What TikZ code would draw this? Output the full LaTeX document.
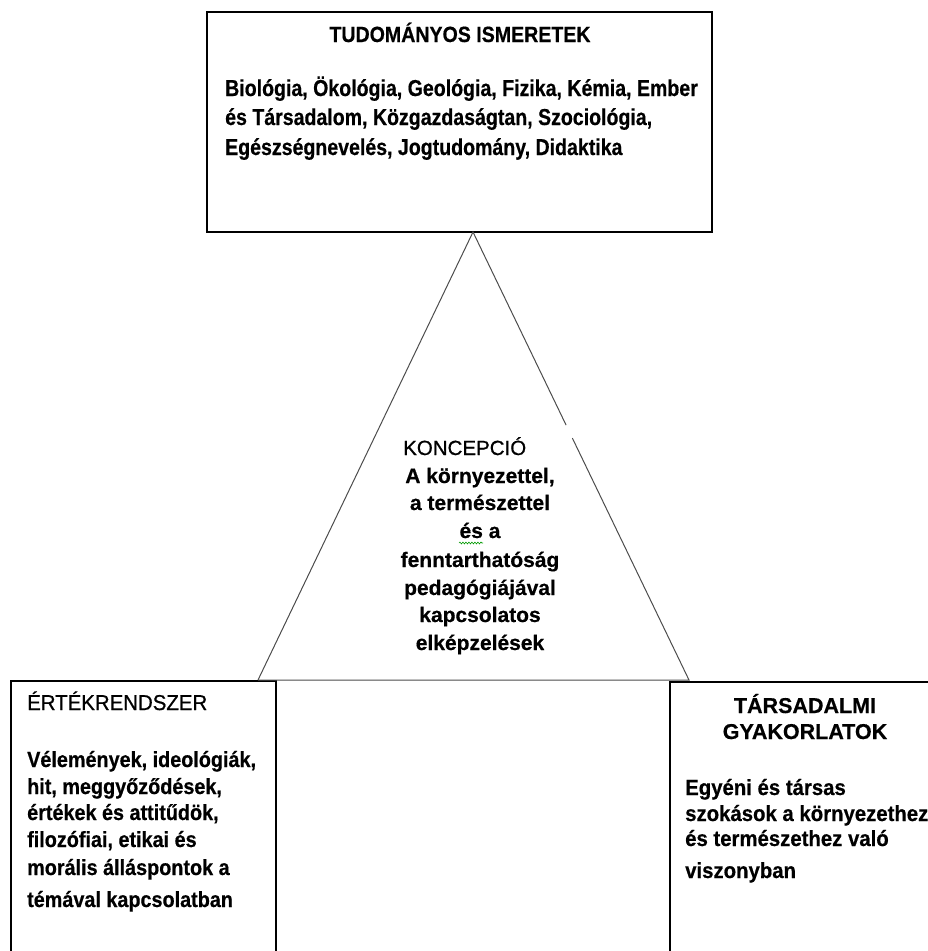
\documentclass[tikz,border=0pt]{standalone}
\usepackage{fontspec}
\setmainfont{Liberation Sans}[BoldFeatures={FakeBold=0.5}]
% condensed cuts of the same family for the denser text blocks
\newfontfamily\fsTopBody{Liberation Sans}[FakeStretch=0.85,BoldFeatures={FakeBold=0.5}]
\newfontfamily\fsTopHead{Liberation Sans}[FakeStretch=0.89,BoldFeatures={FakeBold=0.5}]
\newfontfamily\fsLeftBody{Liberation Sans}[FakeStretch=0.9,BoldFeatures={FakeBold=0.5}]
\newfontfamily\fsRightBody{Liberation Sans}[FakeStretch=0.925,BoldFeatures={FakeBold=0.5}]
\newfontfamily\fsLeftHead{Liberation Sans}[FakeStretch=0.95,FakeBold=0.8]
\newfontfamily\fsConHead{Liberation Sans}[FakeBold=0.8]
\usetikzlibrary{calc,decorations.pathmorphing}
\begin{document}
\begin{tikzpicture}[x=1pt,y=-1pt,
  frame/.style={draw=black,line width=1.3pt},
  tri/.style={draw=black!70,line width=1pt},
  lbl/.style={inner sep=0pt,anchor=base west},
  clbl/.style={inner sep=0pt,anchor=base},
  topbody/.style={lbl,font=\fontsize{23}{28}\selectfont\fsTopBody\bfseries},
  tophead/.style={clbl,font=\fontsize{22}{28}\selectfont\fsTopHead\bfseries},
  concept/.style={clbl,font=\fontsize{21}{28}\selectfont\bfseries},
  conhead/.style={lbl,font=\fontsize{20.5}{28}\selectfont\fsConHead},
  leftbody/.style={lbl,font=\fontsize{22}{28}\selectfont\fsLeftBody\bfseries},
  lefthead/.style={lbl,font=\fontsize{21.5}{28}\selectfont\fsLeftHead},
  rightbody/.style={lbl,font=\fontsize{22}{28}\selectfont\fsRightBody\bfseries},
  righthead/.style={clbl,font=\fontsize{21.5}{28}\selectfont\bfseries}]
\useasboundingbox (0,0) rectangle (928,951);
\clip (0,0) rectangle (928,951);

% top box: scientific knowledge
\node[frame,rectangle,minimum width=505pt,minimum height=220pt,inner sep=0pt] (sci) at (459.5,122) {};
\node[tophead] (sciT) at (460,42) {TUDOMÁNYOS ISMERETEK};
\node[topbody] (sci1) at (225,96) {Biológia, Ökológia, Geológia, Fizika, Kémia, Ember};
\node[topbody] (sci2) at (225,125) {és Társadalom, Közgazdaságtan, Szociológia,};
\node[topbody] (sci3) at (225,155) {Egészségnevelés, Jogtudomány, Didaktika};

% bottom boxes, running off the lower edge
\coordinate (vl) at (11,681);
\coordinate (vr) at (276,681);
\draw[frame] (11,970) -- (vl) -- (vr) -- (276,970);
\coordinate (pl) at (670,682);
\coordinate (pr) at (945,682);
\draw[frame] (670,970) -- (pl) -- (pr) -- (945,970);

% concept triangle, its right side broken by a short gap
\coordinate (apex) at (473,232);
\coordinate (bl) at (258,680);
\coordinate (br) at (689,680);
\draw[tri] (bl) -- (apex) -- ($(apex)!0.431!(br)$);
\draw[tri] ($(apex)!0.46!(br)$) -- (br) -- (bl);

\node[conhead] (konT) at (403,455) {KONCEPCIÓ};
\node[concept] (kon1) at (480,483) {A környezettel,};
\node[concept] (kon2) at (480,510) {a természettel};
\node[concept] (kon3) at (480,538) {és a};
\node[concept] (kon4) at (480,567) {fenntarthatóság};
\node[concept] (kon5) at (480,595) {pedagógiájával};
\node[concept] (kon6) at (480,622) {kapcsolatos};
\node[concept] (kon7) at (480,650) {elképzelések};
\draw[green!60!black,line width=0.6pt,decorate,decoration={snake,amplitude=0.9pt,segment length=3pt}]
  (459,543) -- (483,543);

% value system
\node[lefthead] (valT) at (27,710) {ÉRTÉKRENDSZER};
\node[leftbody] (val1) at (27,767) {Vélemények, ideológiák,};
\node[leftbody] (val2) at (27,794) {hit, meggyőződések,};
\node[leftbody] (val3) at (27,820) {értékek és attitűdök,};
\node[leftbody] (val4) at (27,847) {filozófiai, etikai és};
\node[leftbody] (val5) at (27,875) {morális álláspontok a};
\node[leftbody] (val6) at (27,907) {témával kapcsolatban};

% social practices
\node[righthead] (socT1) at (805,713) {TÁRSADALMI};
\node[righthead] (socT2) at (805,739) {GYAKORLATOK};
\node[rightbody] (soc1) at (685,795) {Egyéni és társas};
\node[rightbody] (soc2) at (685,821) {szokások a környezethez};
\node[rightbody] (soc3) at (685,846) {és természethez való};
\node[rightbody] (soc4) at (685,878) {viszonyban};
\end{tikzpicture}
\end{document}
